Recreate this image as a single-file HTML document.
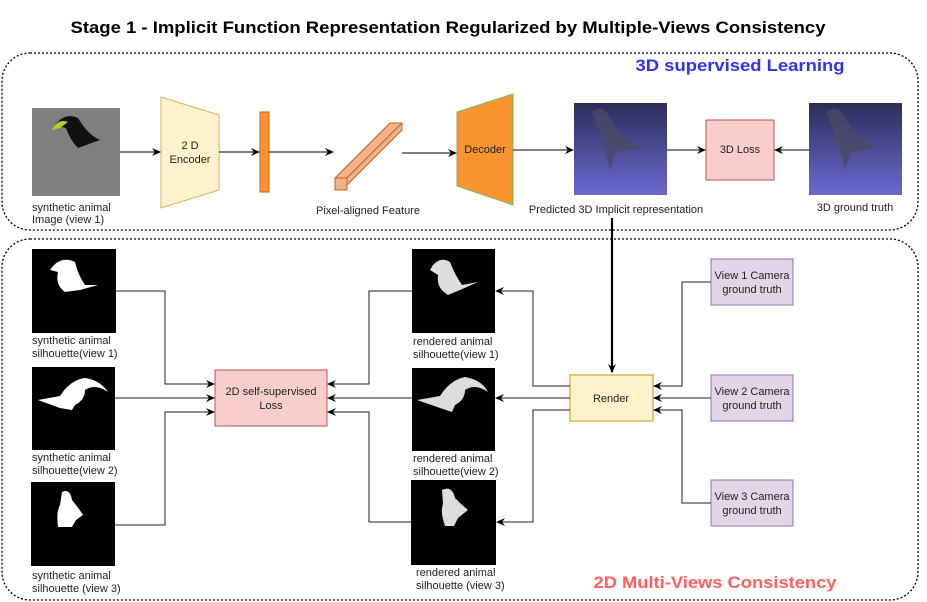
<!DOCTYPE html>
<html><head><meta charset="utf-8"><style>
body{margin:0;background:#fff}
svg{display:block;font-family:"Liberation Sans",Arial,sans-serif}
</style></head><body>
<svg width="927" height="602" viewBox="0 0 927 602" xmlns="http://www.w3.org/2000/svg">
<defs>
<marker id="a" markerWidth="10" markerHeight="10" refX="8" refY="5" orient="auto" markerUnits="userSpaceOnUse"><path d="M0,1 L9,5 L0,9 L3,5 Z" fill="#000"/></marker>
<linearGradient id="bl" x1="0" y1="0" x2="0" y2="1"><stop offset="0" stop-color="#2c2d5a"/><stop offset="1" stop-color="#6a6ad0"/></linearGradient>
</defs>
<text x="448" y="33" text-anchor="middle" font-size="17" font-weight="bold" textLength="755" lengthAdjust="spacingAndGlyphs">Stage 1 - Implicit Function Representation Regularized by Multiple-Views Consistency</text>
<rect x="2" y="53" width="916" height="177" rx="28" fill="none" stroke="#000" stroke-dasharray="2,2" stroke-width="1.3"/>
<rect x="2" y="239" width="916" height="361" rx="28" fill="none" stroke="#000" stroke-dasharray="2,2" stroke-width="1.3"/>
<text x="740" y="71" text-anchor="middle" font-size="17" font-weight="bold" fill="#3333ee" textLength="209" lengthAdjust="spacingAndGlyphs">3D supervised Learning</text>
<text x="715" y="588" text-anchor="middle" font-size="17" font-weight="bold" fill="#ff5f5f" textLength="243" lengthAdjust="spacingAndGlyphs">2D Multi-Views Consistency</text>
<g font-size="11" fill="#222">
<rect x="32" y="108" width="88" height="88" fill="#7f7f7f"/>
<path d="M55,125 Q65,112 78,118 Q88,135 100,140 L78,148 Q70,140 66,128 Z" fill="#111"/>
<path d="M52,130 Q58,118 68,122 L60,128 Z" fill="#b8d020"/>
<text x="32" y="211">synthetic animal</text><text x="32" y="223">Image (view 1)</text>
<path d="M161,97 L219,115 L219,190 L161,208 Z" fill="#fff2cc" stroke="#d6b656"/>
<text x="190" y="149" text-anchor="middle">2 D</text><text x="190" y="163" text-anchor="middle">Encoder</text>
<rect x="260" y="112" width="9" height="80" fill="#f8952e" stroke="#c0632a"/>
<path d="M335,178 L390,123 L402,123 L402,130 L347,185 L347,190 L335,190 Z" fill="#f4b183" stroke="#c0632a"/>
<path d="M335,178 L347,178 L402,123" fill="none" stroke="#c0632a"/>
<path d="M347,178 L347,190" stroke="#c0632a"/>
<text x="368" y="214" text-anchor="middle">Pixel-aligned Feature</text>
<path d="M457,112 L513,94 L513,205 L457,186 Z" fill="#f8952e" stroke="#82b366"/>
<text x="485" y="153" text-anchor="middle">Decoder</text>
<rect x="574" y="103" width="93" height="92" fill="url(#bl)"/>
<path d="M592,112 Q603,103 610,118 Q620,135 640,148 L616,152 L610,170 L605,150 Q598,130 592,112 Z" fill="#4a4a66" opacity="0.8"/>
<text x="616" y="213" text-anchor="middle">Predicted 3D Implicit representation</text>
<rect x="706" y="120" width="68" height="60" fill="#f8cecc" stroke="#b85450"/>
<text x="740" y="153" text-anchor="middle">3D Loss</text>
<rect x="809" y="103" width="93" height="92" fill="url(#bl)"/>
<path d="M827,112 Q838,103 845,118 Q855,135 875,148 L851,152 L845,170 L840,150 Q833,130 827,112 Z" fill="#4a4a66" opacity="0.8"/>
<text x="855" y="211" text-anchor="middle">3D ground truth</text>
<g stroke="#000" fill="none" marker-end="url(#a)">
<line x1="120" y1="152" x2="160" y2="152"/><line x1="219" y1="152" x2="259" y2="152"/>
<line x1="269" y1="152" x2="333" y2="152"/><line x1="402" y1="153" x2="456" y2="153"/>
<line x1="513" y1="150" x2="573" y2="150"/><line x1="667" y1="150" x2="705" y2="150"/>
<line x1="809" y1="150" x2="775" y2="150"/>
</g>
<line x1="612" y1="218" x2="612" y2="372" stroke="#000" stroke-width="2.2" marker-end="url(#a)"/>
<rect x="32" y="249" width="84" height="84" fill="#000"/>
<path d="M50,270 Q60,255 75,262 Q78,275 85,285 L98,285 L80,290 L65,292 Q55,285 58,272 Z" fill="#fff"/>
<text x="32" y="344">synthetic animal</text><text x="32" y="357">silhouette(view 1)</text>
<rect x="32" y="367" width="83" height="83" fill="#000"/>
<path d="M38,400 L60,396 Q70,380 85,378 Q100,380 108,392 Q95,383 85,390 Q85,400 75,405 L72,410 L60,408 Z" fill="#fff"/>
<text x="32" y="461">synthetic animal</text><text x="32" y="474">silhouette(view 2)</text>
<rect x="31" y="482" width="84" height="84" fill="#000"/>
<path d="M62,492 Q70,488 72,500 Q80,510 83,515 L76,520 L72,527 L58,527 Q56,512 60,505 Z" fill="#fff"/>
<text x="32" y="579">synthetic animal</text><text x="32" y="592">silhouette (view 3)</text>
<rect x="215" y="370" width="112" height="56" fill="#f8cecc" stroke="#b85450"/>
<text x="271" y="395" text-anchor="middle">2D self-supervised</text><text x="271" y="409" text-anchor="middle">Loss</text>
<rect x="412" y="249" width="83" height="84" fill="#000"/>
<path d="M430,270 Q438,255 450,262 Q455,275 462,285 L478,282 L460,290 L448,295 Q436,288 438,275 Z" fill="#ddd"/>
<text x="413" y="345">rendered animal</text><text x="413" y="358">silhouette(view 1)</text>
<rect x="412" y="368" width="83" height="83" fill="#000"/>
<path d="M417,400 L440,396 Q450,380 465,377 Q482,380 488,392 Q475,383 465,390 Q465,400 455,405 L452,412 L440,408 Z" fill="#ddd"/>
<text x="413" y="462">rendered animal</text><text x="413" y="475">silhouette(view 2)</text>
<rect x="411" y="480" width="85" height="85" fill="#000"/>
<path d="M442,490 Q452,485 455,498 Q462,505 468,510 L458,518 L454,526 L445,526 Q440,512 443,504 Z" fill="#ddd"/>
<text x="416" y="576">rendered animal</text><text x="416" y="589">silhouette (view 3)</text>
<rect x="570" y="375" width="83" height="46" fill="#fff2cc" stroke="#d6b656" stroke-width="1.5"/>
<text x="611" y="402" text-anchor="middle">Render</text>
<g fill="#e1d5e7" stroke="#9673a6">
<rect x="711" y="259" width="82" height="46"/><rect x="711" y="375" width="82" height="46"/><rect x="711" y="480" width="82" height="46"/>
</g>
<g text-anchor="middle">
<text x="752" y="279">View 1 Camera</text><text x="752" y="293">ground truth</text>
<text x="752" y="395">View 2 Camera</text><text x="752" y="409">ground truth</text>
<text x="752" y="500">View 3 Camera</text><text x="752" y="514">ground truth</text>
</g>
<g stroke="#222" fill="none" marker-end="url(#a)">
<polyline points="116,291 165,291 165,384 214,384"/>
<polyline points="115,398 214,398"/>
<polyline points="115,525 165,525 165,412 214,412"/>
<polyline points="412,291 369,291 369,384 328,384"/>
<polyline points="412,398 328,398"/>
<polyline points="411,522 369,522 369,412 328,412"/>
<polyline points="570,386 533,386 533,291 496,291"/>
<polyline points="570,398 496,398"/>
<polyline points="570,410 533,410 533,522 497,522"/>
<polyline points="711,282 682,282 682,386 654,386"/>
<polyline points="711,398 654,398"/>
<polyline points="711,503 682,503 682,410 654,410"/>
</g>
</g>
</svg>
</body></html>
